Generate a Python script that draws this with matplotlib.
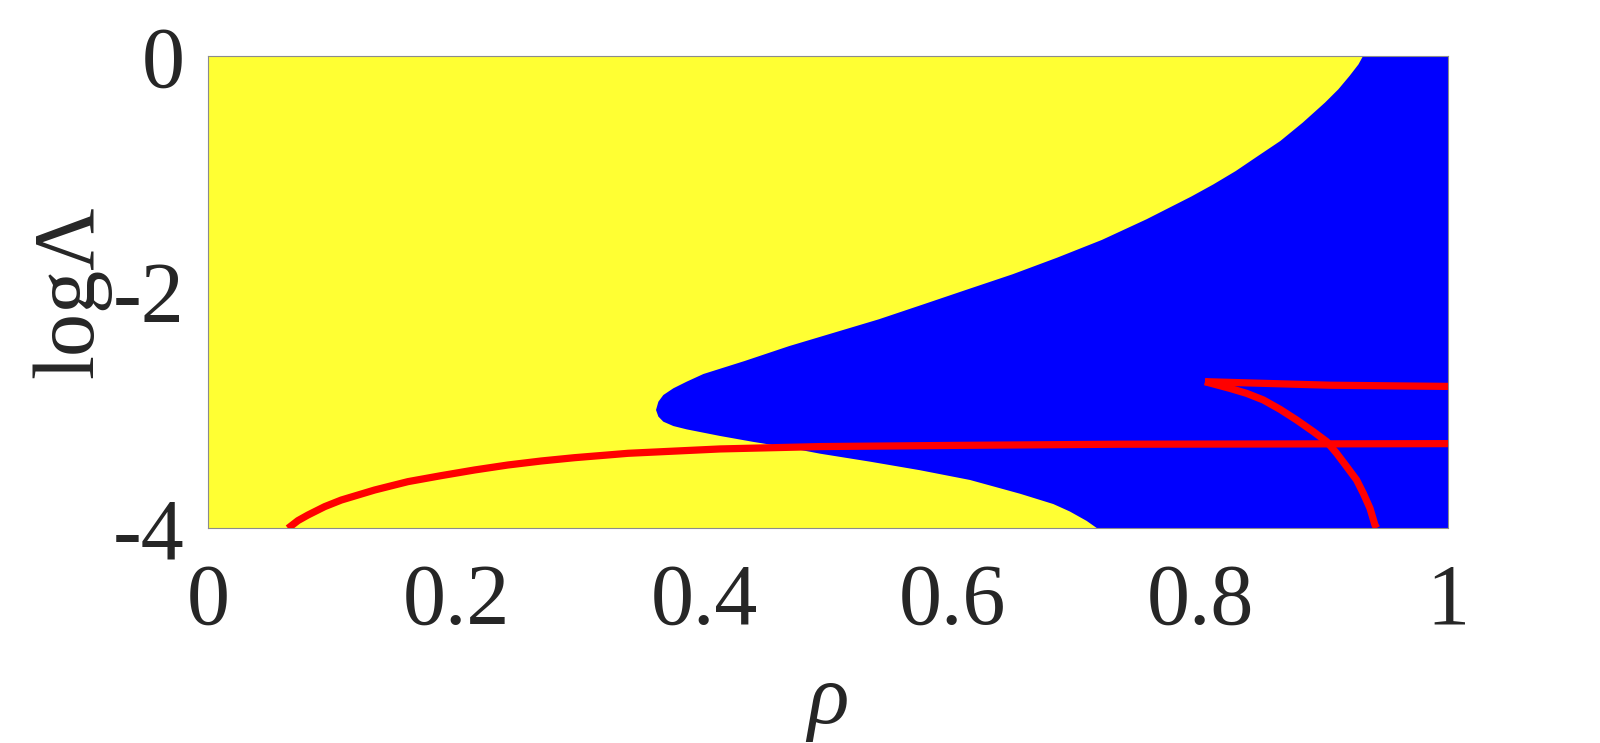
import matplotlib
matplotlib.use("Agg")
import matplotlib.pyplot as plt

# Boundary between yellow and blue regions (from top, through the nose, to the bottom)
boundary_rho = [0.9315, 0.9278, 0.9206, 0.9116, 0.9008, 0.8828, 0.8648, 0.8468,
                0.8288, 0.8108, 0.7928, 0.7568, 0.7208, 0.6848, 0.6488, 0.6128,
                0.5768, 0.5408, 0.5048, 0.4688, 0.4327, 0.3995, 0.386, 0.3753,
                0.3672, 0.3632, 0.3613,
                0.3632, 0.3672, 0.3753, 0.386, 0.4129, 0.4396, 0.4667, 0.4935,
                0.534, 0.574, 0.6145, 0.655, 0.6817, 0.695, 0.7086, 0.7167]
boundary_logL = [0.0, -0.071, -0.169, -0.282, -0.395, -0.565, -0.720, -0.847,
                 -0.975, -1.088, -1.192, -1.384, -1.559, -1.709, -1.850, -1.977,
                 -2.105, -2.232, -2.345, -2.458, -2.585, -2.695, -2.76, -2.816,
                 -2.873, -2.93, -3.0,
                 -3.056, -3.099, -3.136, -3.164, -3.22, -3.27, -3.316, -3.37,
                 -3.438, -3.51, -3.593, -3.71, -3.797, -3.86, -3.94, -4.0]

# Red curves
red1_rho = [0.0645, 0.0726, 0.0806, 0.0941, 0.1075, 0.1344, 0.1613, 0.1882,
            0.2151, 0.2419, 0.2688, 0.2957, 0.3226, 0.3387, 0.413, 0.4935,
            0.601, 0.7355, 0.85, 1.0]
red1_logL = [-4.003, -3.937, -3.890, -3.819, -3.763, -3.678, -3.607, -3.556,
             -3.508, -3.466, -3.432, -3.404, -3.381, -3.367, -3.33, -3.31,
             -3.30, -3.29, -3.288, -3.285]

red2_rho = [0.804, 0.905, 1.0]
red2_logL = [-2.76, -2.79, -2.80]

red3_rho = [0.8040, 0.8242, 0.8376, 0.8511, 0.8645, 0.8780, 0.8915, 0.9022,
            0.9102, 0.9183, 0.9263, 0.9317, 0.9371, 0.9411, 0.9425]
red3_logL = [-2.760, -2.817, -2.859, -2.915, -2.994, -3.085, -3.184, -3.268,
             -3.367, -3.480, -3.593, -3.706, -3.833, -3.975, -4.0]

xticks = [0, 0.2, 0.4, 0.6, 0.8, 1]
xticklabels = ["0", "0.2", "0.4", "0.6", "0.8", "1"]
yticks = [-4, -2, 0]
yticklabels = ["-4", "-2", "0"]

YELLOW = "#FFFF33"
BLUE = "#0000FF"
RED = "#FF0000"

plt.rcParams["font.family"] = ["Liberation Serif", "DejaVu Serif"]

fig = plt.figure(figsize=(16, 7.43), dpi=100)
ax = fig.add_axes([0.13, 1 - 528 / 743, 0.775, 472 / 743])
ax.set_xlim(0, 1)
ax.set_ylim(-4, 0)
ax.set_facecolor(YELLOW)

# Blue region: right of boundary
poly_x = list(boundary_rho) + [1.0, 1.0]
poly_y = list(boundary_logL) + [-4.0, 0.0]
ax.fill(poly_x, poly_y, color=BLUE, linewidth=0, zorder=1)

for xs, ys in [(red1_rho, red1_logL), (red2_rho, red2_logL), (red3_rho, red3_logL)]:
    ax.plot(xs, ys, color=RED, linewidth=5.2, solid_capstyle="butt",
            solid_joinstyle="round", zorder=3)

ax.set_xticks(xticks)
ax.set_xticklabels(xticklabels)
ax.set_yticks(yticks)
ax.set_yticklabels(yticklabels)
ax.tick_params(axis="both", length=0, labelsize=62, colors="#262626")
ax.tick_params(axis="x", pad=25)
ax.tick_params(axis="y", pad=17)

for sp in ax.spines.values():
    sp.set_color("#8c8c8c")
    sp.set_linewidth(0.8)

ax.set_ylabel("logΛ", fontsize=62, color="#262626", labelpad=0)
ax.yaxis.set_label_coords(-0.078, 0.5)
ax.set_xlabel("ρ", fontsize=62, style="italic", color="#262626")
ax.xaxis.set_label_coords(0.5, -0.285)

fig.savefig("out.png", dpi=100)
